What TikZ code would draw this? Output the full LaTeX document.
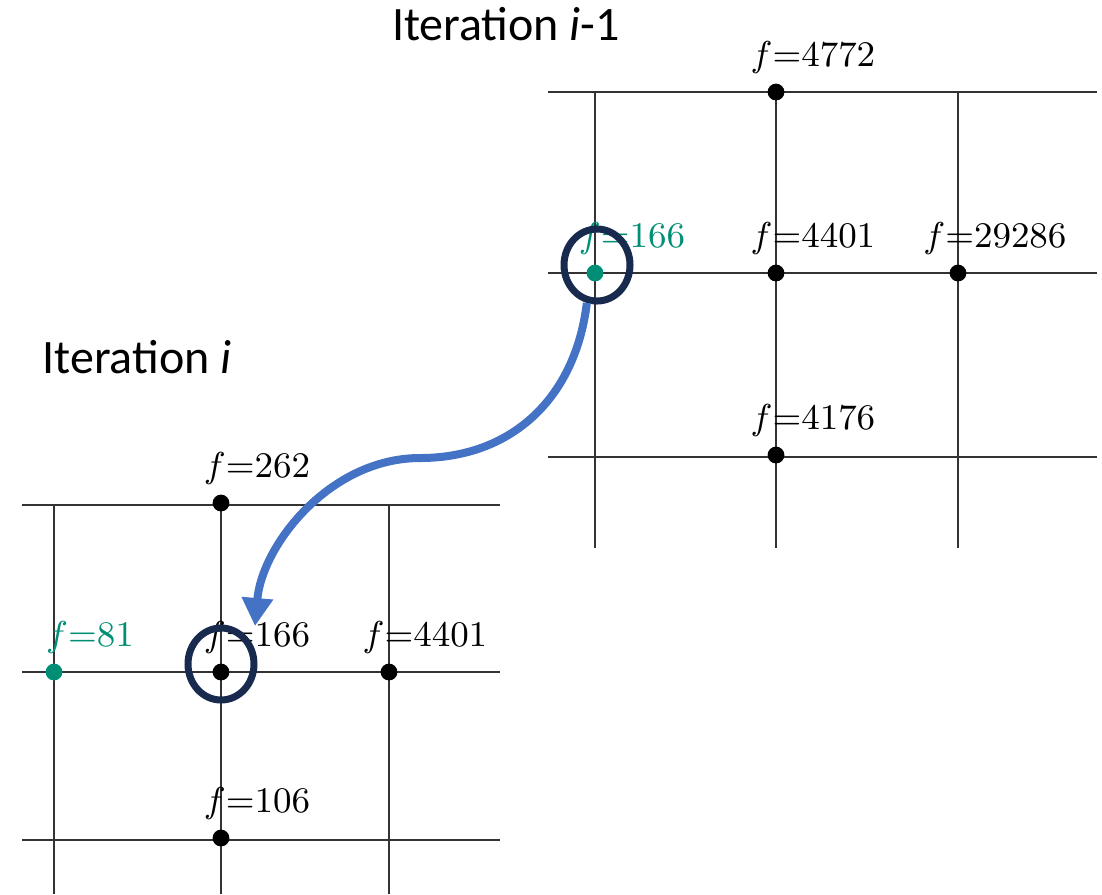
\documentclass[tikz,border=0pt]{standalone}
\usepackage{fontspec}
\newfontfamily\calibri{Carlito}
\usetikzlibrary{arrows.meta,calc,shapes.geometric}
\definecolor{fgreen}{RGB}{0,143,117}
\definecolor{ringblue}{RGB}{24,42,78}
\definecolor{arrowblue}{RGB}{68,114,196}
\begin{document}
\begin{tikzpicture}[x=0.25pt,y=-0.25pt,
  dot/.style={circle,fill=black,inner sep=0pt,minimum size=4.2pt},
  gdot/.style={dot,fill=fgreen},
  flabel/.style={anchor=base,inner sep=0pt,font=\fontsize{9.4}{11}\selectfont},
  ring/.style={ellipse,draw=ringblue,line width=1.75pt,minimum width=16.5pt,minimum height=18pt,inner sep=0pt},
  gridline/.style={line width=0.35pt,black!80},
  title/.style={anchor=base,inner sep=0pt,font=\calibri\fontsize{12}{14}\selectfont}]
\useasboundingbox (0,0) rectangle (1102,894);

% iteration i-1
\foreach \y in {92,273,457} \draw[gridline] (548,\y) -- (1097,\y);
\foreach \x in {595,776,958} \draw[gridline] (\x,92) -- (\x,548);
\node[title] (t1) at (506,40) {Iteration \textit{i}-1};

\node[dot] (a1) at (776,92) {};
\node[gdot] (a2) at (595,273) {};
\node[dot] (a3) at (776,273) {};
\node[dot] (a4) at (958,273) {};
\node[dot] (a5) at (776,455) {};
\node[flabel] at ($(a1)+(37,-26)$) {$f{=}4772$};
\node[flabel,text=fgreen] at ($(a2)+(37,-26)$) {$f{=}166$};
\node[flabel] at ($(a3)+(37,-26)$) {$f{=}4401$};
\node[flabel] at ($(a4)+(37,-26)$) {$f{=}29286$};
\node[flabel] at ($(a5)+(37,-26)$) {$f{=}4176$};

% iteration i
\foreach \y in {505,672,840} \draw[gridline] (22,\y) -- (500,\y);
\foreach \x in {54,221,389} \draw[gridline] (\x,505) -- (\x,894);
\node[title] (t2) at (137,373) {Iteration \textit{i}};

\node[dot] (b1) at (221,503) {};
\node[gdot] (b2) at (54,672) {};
\node[dot] (b3) at (221,672) {};
\node[dot] (b4) at (389,672) {};
\node[dot] (b5) at (221,838) {};
\node[flabel] at ($(b1)+(36,-26)$) {$f{=}262$};
\node[flabel,text=fgreen] at ($(b2)+(36,-26)$) {$f{=}81$};
\node[flabel] at ($(b3)+(36,-26)$) {$f{=}166$};
\node[flabel] at ($(b4)+(36,-26)$) {$f{=}4401$};
\node[flabel] at ($(b5)+(36,-26)$) {$f{=}106$};

% moves
\node[ring] (r1) at (597,265) {};
\node[ring] (r2) at (221,664) {};
\coordinate (tip) at (255,626);
\draw[arrowblue,line width=2pt,-{Triangle[length=7pt,width=7.5pt]}]
  (r1.255) .. controls (575,400) and (510,458) .. (420,458)
  .. controls (330,458) and (262,545) .. (tip);
\end{tikzpicture}
\end{document}
